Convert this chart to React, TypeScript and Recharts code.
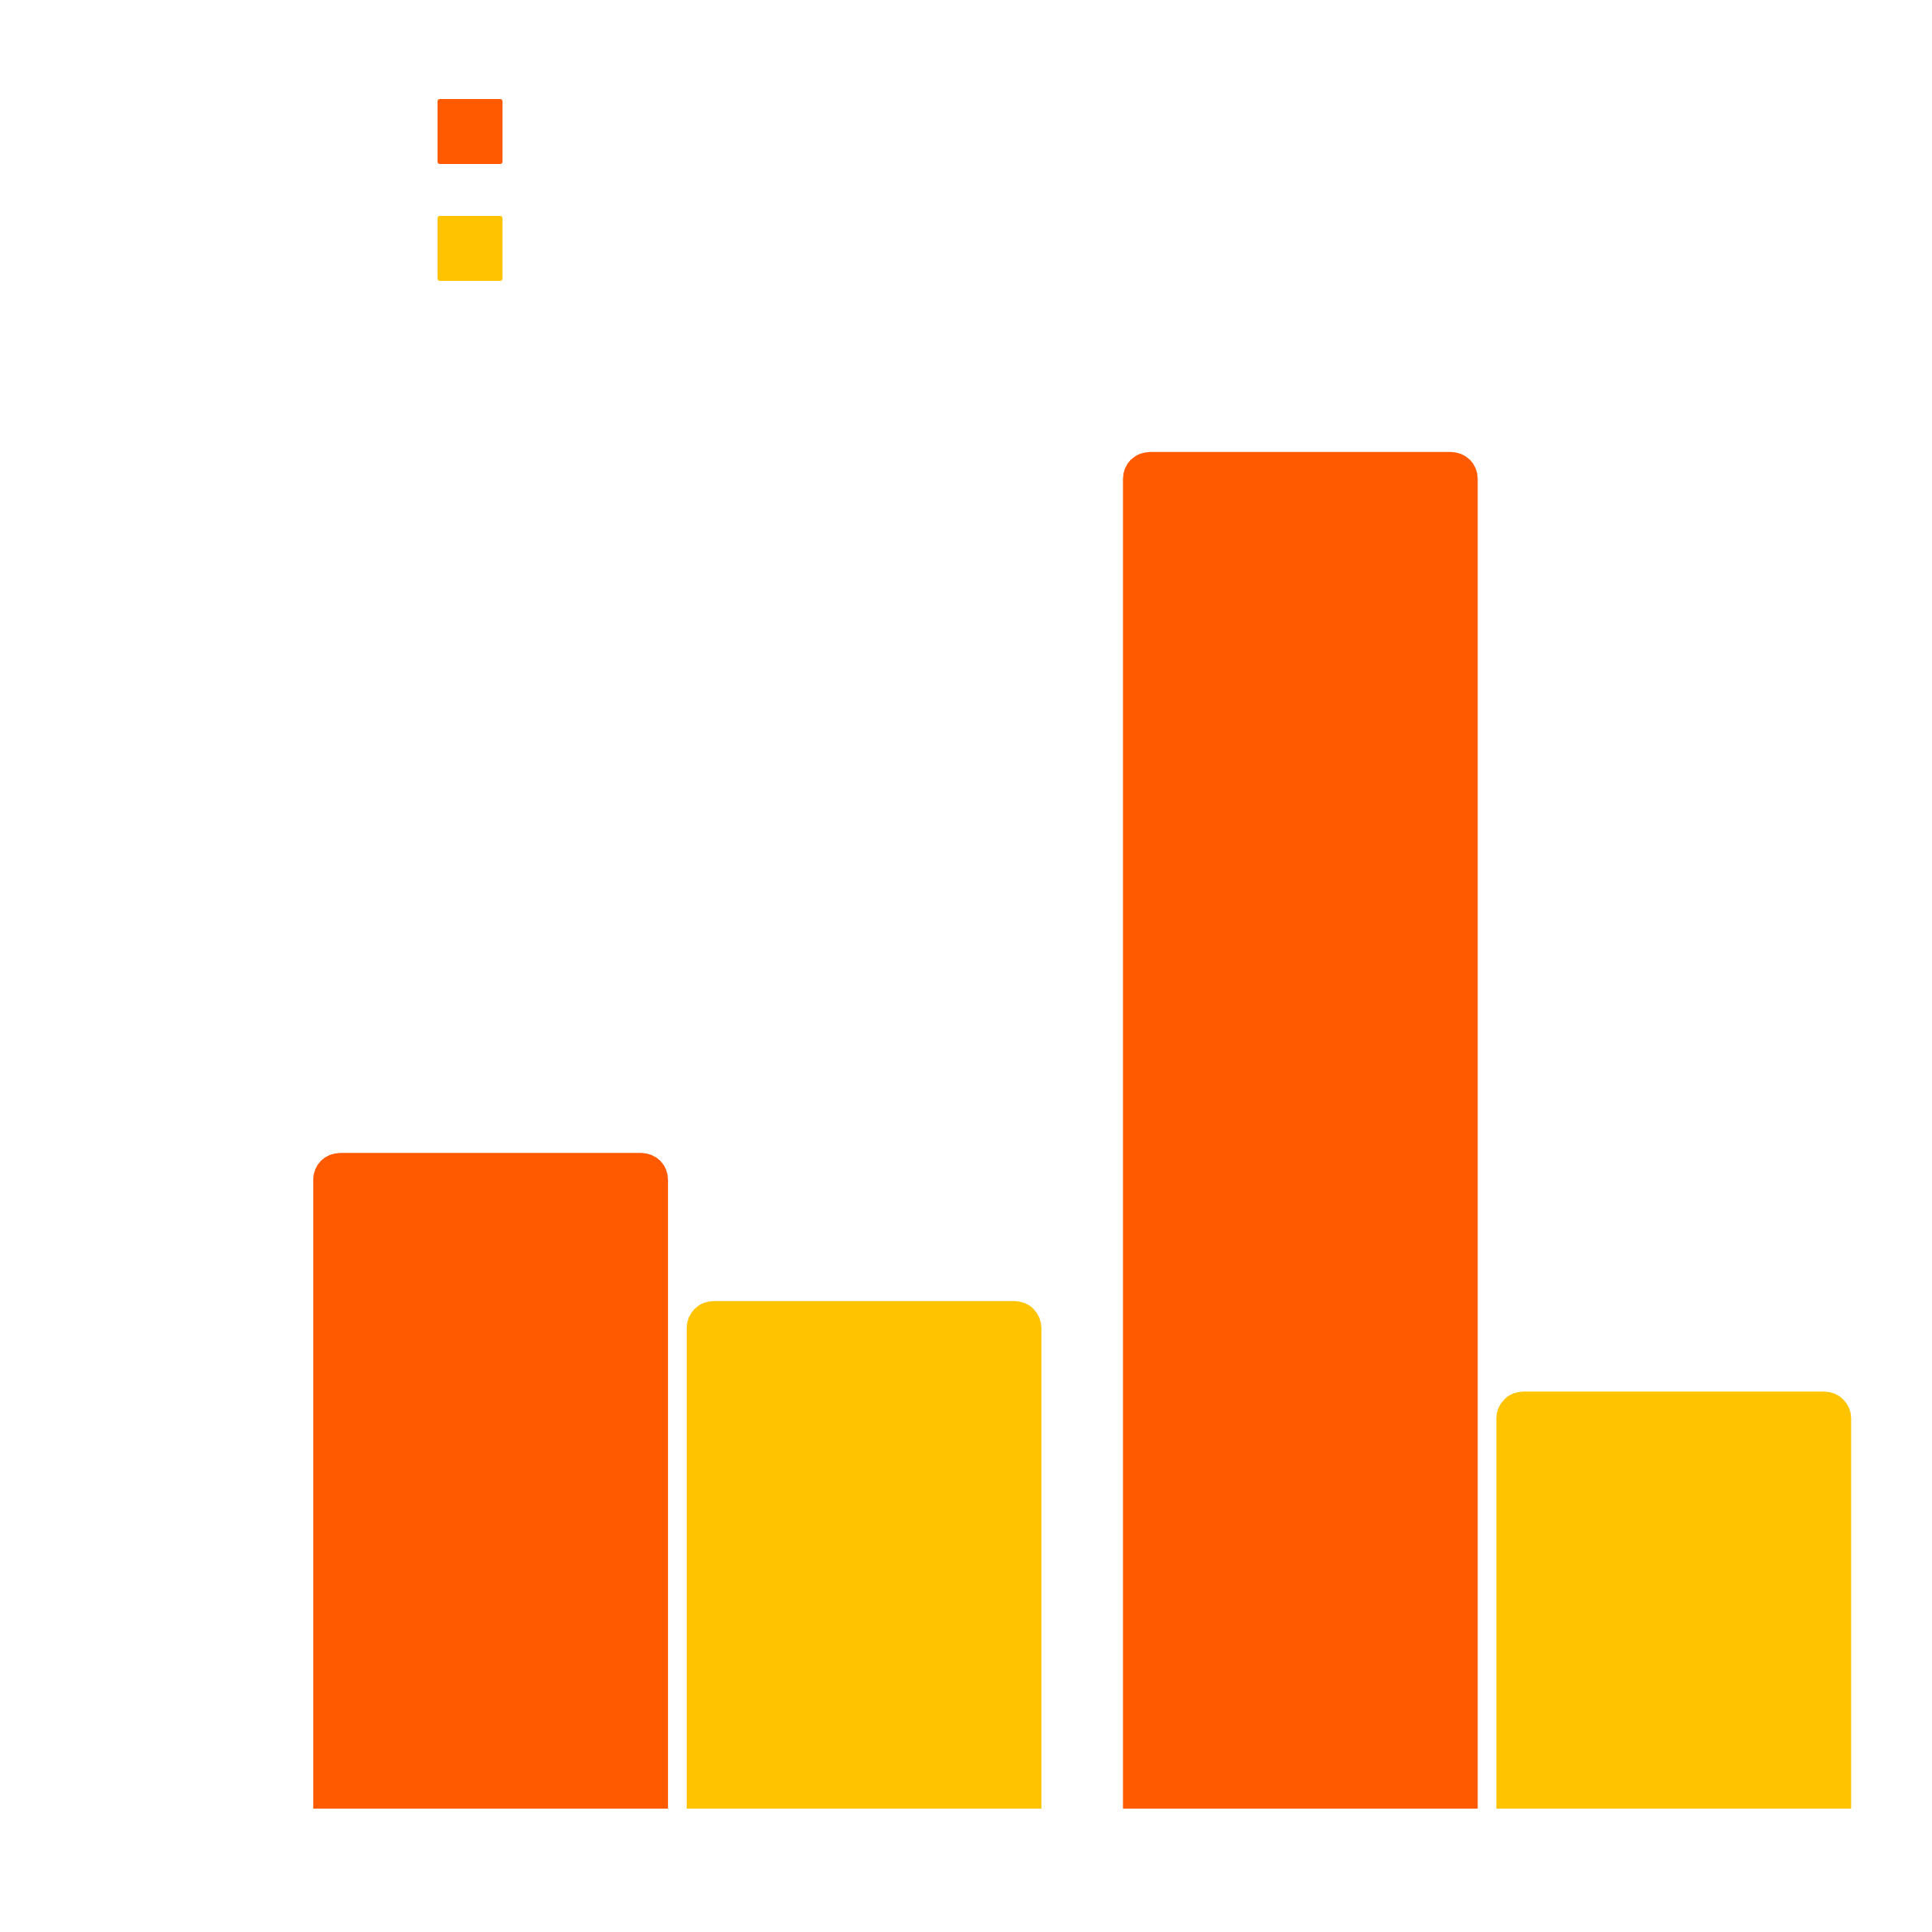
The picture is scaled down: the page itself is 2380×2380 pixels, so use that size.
import React from "react";
import { BarChart, Bar, XAxis, YAxis } from "recharts";

const categories = ["A", "B"];
const seriesOne = [26.1, 54];
const seriesTwo = [20.2, 16.6];
const seriesNames = ["Series 1", "Series 2"];

const data = categories.map((c, i) => ({
  category: c,
  s1: seriesOne[i],
  s2: seriesTwo[i],
}));

const ORANGE = "#FF5A00";
const YELLOW = "#FFC300";
const seriesColors = [ORANGE, YELLOW];

// legend is just two swatches, kept outside the chart so it doesn't eat plot space
function SwatchLegend() {
  return (
    <div style={{ position: "absolute", top: 122, left: 539 }}>
      {seriesNames.map((name, i) => (
        <div
          key={name}
          title={name}
          style={{
            width: 80,
            height: 80,
            borderRadius: 3,
            background: seriesColors[i],
            marginBottom: 64,
          }}
        />
      ))}
    </div>
  );
}

export default function App() {
  return (
    <div style={{ position: "absolute", left: 0, top: 0, width: 2380, height: 2380, background: "#fff" }}>
      <BarChart
        width={2380}
        height={2380}
        data={data}
        margin={{ top: 371, right: 49, bottom: 152, left: 336 }}
        barCategoryGap="5%"
        barGap={23}
      >
        <XAxis dataKey="category" hide />
        <YAxis domain={[0, 60]} hide />
        <Bar
          dataKey="s1"
          name={seriesNames[0]}
          fill={ORANGE}
          radius={[33, 33, 0, 0]}
          isAnimationActive={false}
        />
        <Bar
          dataKey="s2"
          name={seriesNames[1]}
          fill={YELLOW}
          radius={[33, 33, 0, 0]}
          isAnimationActive={false}
        />
      </BarChart>
      <SwatchLegend />
    </div>
  );
}
